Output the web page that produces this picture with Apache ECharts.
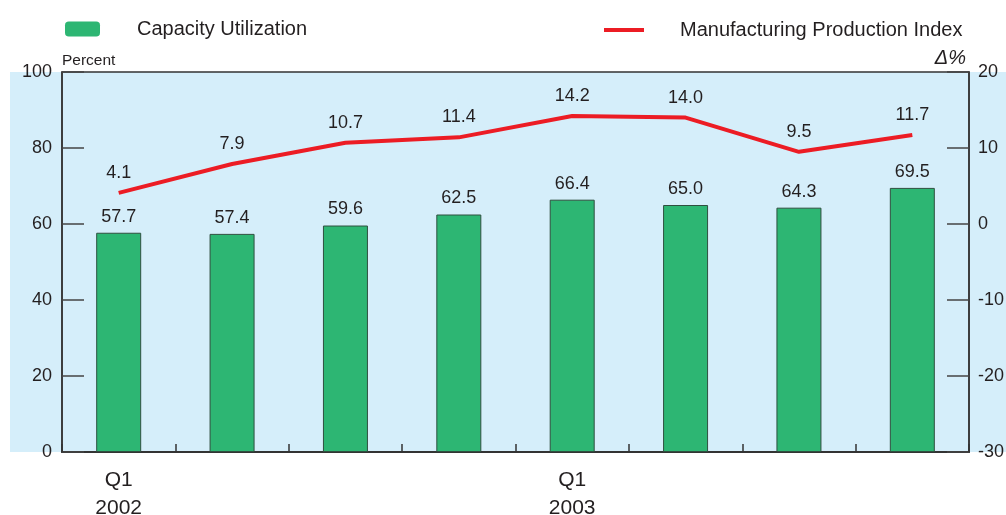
<!DOCTYPE html>
<html>
<head>
<meta charset="utf-8">
<script src="https://cdn.jsdelivr.net/npm/echarts@6/dist/echarts.min.js"></script>
<style>
  html, body { margin: 0; padding: 0; background: #fff; }
  #chart { width: 1006px; height: 515px; }
</style>
</head>
<body>
<div id="chart"></div>
<script>
  // 季度数据
  const quarters = ['Q1\n2002', 'Q2 2002', 'Q3 2002', 'Q4 2002', 'Q1\n2003', 'Q2 2003', 'Q3 2003', 'Q4 2003']
  const capacityUtil = [57.7, 57.4, 59.6, 62.5, 66.4, 65.0, 64.3, 69.5]
  const mfgIndex = [4.1, 7.9, 10.7, 11.4, 14.2, 14.0, 9.5, 11.7]
  const shownLabels = ['Q1\n2002', 'Q1\n2003']

  const font = 'Liberation Sans, Arial, Helvetica, sans-serif'
  const ink = '#231f20'
  const red = '#ec1c24'

  const chart = echarts.init(document.getElementById('chart'))
  const option = {
    animation: false,
    textStyle: { fontFamily: font, color: ink },
    // 浅蓝色背景条
    graphic: [
      {
        type: 'rect',
        z: -10,
        shape: { x: 10, y: 72, width: 996, height: 380 },
        style: { fill: '#d5eefa' }
      }
    ],
    legend: [
      {
        data: ['Capacity Utilization'],
        left: 60,
        top: 14,
        itemWidth: 35,
        itemHeight: 15,
        itemStyle: { borderWidth: 0 },
        textStyle: { fontSize: 20, color: ink, fontFamily: font, padding: [0, 0, 0, 32] }
      },
      {
        data: [{ name: 'Manufacturing Production Index', itemStyle: { color: red, opacity: 1 } }],
        left: 599,
        top: 15,
        icon: 'rect',
        itemWidth: 40,
        itemHeight: 4,
        textStyle: { fontSize: 20, color: ink, fontFamily: font, padding: [0, 0, 0, 31] }
      }
    ],
    grid: {
      left: 62,
      right: 37,
      top: 72,
      bottom: 63,
      outerBoundsMode: 'none',
      show: true,
      borderColor: '#333',
      borderWidth: 1.5,
      backgroundColor: 'transparent'
    },
    xAxis: {
      type: 'category',
      data: quarters,
      axisLine: { lineStyle: { color: '#333', width: 2 } },
      axisTick: { show: true, inside: true, length: 8, interval: 0, lineStyle: { color: '#333', width: 1.5 } },
      axisLabel: {
        interval: 0,
        margin: 14,
        fontSize: 21,
        lineHeight: 28,
        color: ink,
        fontFamily: font,
        formatter: v => (shownLabels.includes(v) ? v : '')
      }
    },
    yAxis: [
      {
        type: 'value',
        min: 0,
        max: 100,
        interval: 20,
        name: 'Percent',
        nameLocation: 'end',
        nameGap: 3,
        nameTextStyle: { fontSize: 15.5, color: ink, align: 'left', fontFamily: font },
        axisLine: { show: true, lineStyle: { color: '#333', width: 1.5 } },
        axisTick: { show: true, inside: true, length: 22, lineStyle: { color: '#444', width: 1.5 } },
        axisLabel: { fontSize: 18, color: ink, margin: 10, fontFamily: font },
        splitLine: { show: false }
      },
      {
        type: 'value',
        min: -30,
        max: 20,
        interval: 10,
        name: 'Δ%',
        nameLocation: 'end',
        nameGap: 4,
        nameTextStyle: { fontSize: 20, color: ink, align: 'right', fontStyle: 'italic', fontFamily: font, padding: [0, 3, 0, 0] },
        axisLine: { show: true, lineStyle: { color: '#333', width: 1.5 } },
        axisTick: { show: true, inside: true, length: 22, lineStyle: { color: '#444', width: 1.5 } },
        axisLabel: { fontSize: 18, color: ink, margin: 9, fontFamily: font },
        splitLine: { show: false }
      }
    ],
    series: [
      {
        name: 'Capacity Utilization',
        type: 'bar',
        yAxisIndex: 0,
        barWidth: 45,
        data: capacityUtil,
        itemStyle: { color: '#2db673', borderColor: '#2f4f3f', borderWidth: 1 },
        label: {
          show: true,
          position: 'top',
          distance: 7,
          fontSize: 18,
          color: ink,
          fontFamily: font,
          formatter: p => p.value.toFixed(1)
        }
      },
      {
        name: 'Manufacturing Production Index',
        type: 'line',
        yAxisIndex: 1,
        data: mfgIndex,
        symbol: 'circle',
        symbolSize: 2,
        showSymbol: true,
        lineStyle: { color: red, width: 4 },
        itemStyle: { color: 'rgba(0,0,0,0)', borderWidth: 0 },
        label: {
          show: true,
          position: 'top',
          distance: 10,
          fontSize: 18,
          color: ink,
          fontFamily: font,
          formatter: p => p.value.toFixed(1)
        }
      }
    ]
  }
  chart.setOption(option)
</script>
</body>
</html>
